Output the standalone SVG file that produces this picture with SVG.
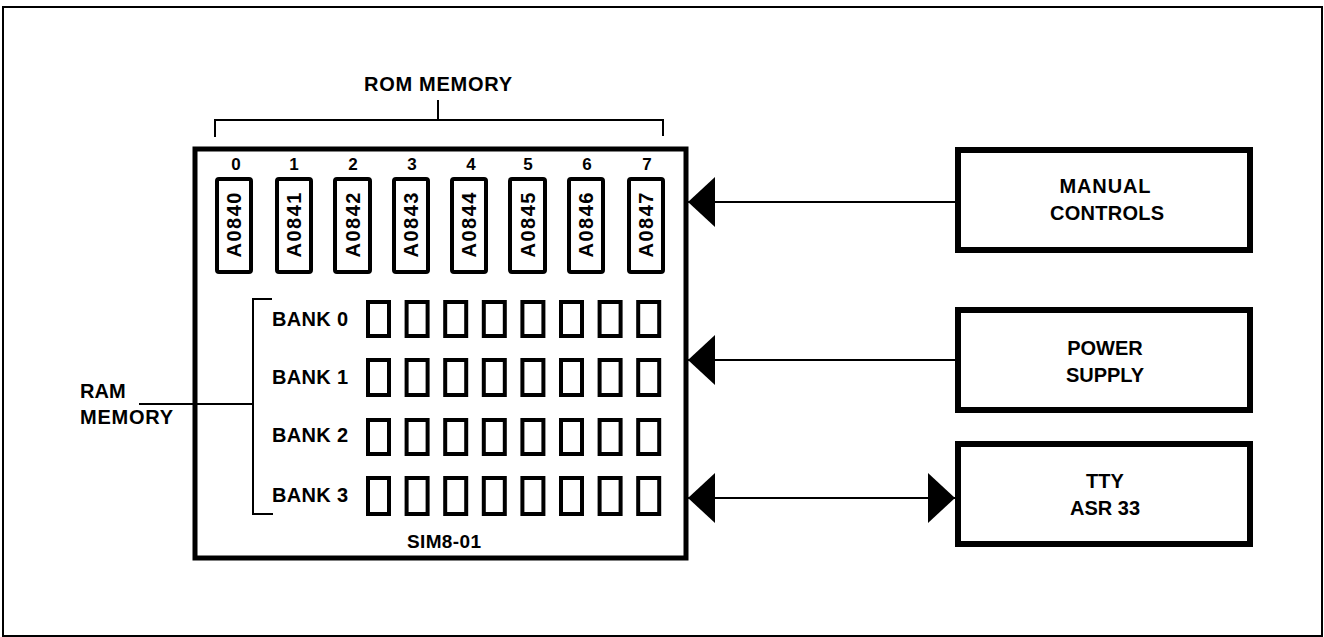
<svg xmlns="http://www.w3.org/2000/svg" width="1324" height="637" viewBox="0 0 1324 637">
<defs>
<style>
text{font-family:"Liberation Sans",Arial,Helvetica,sans-serif;font-weight:bold;fill:#000;text-anchor:middle}
.frame{fill:none;stroke:#000;stroke-width:2}
.box{fill:#fff;stroke:#000;stroke-width:5}
.rbox{fill:#fff;stroke:#000;stroke-width:6}
.rom{fill:#fff;stroke:#000;stroke-width:4}
.ram{fill:#fff;stroke:#000;stroke-width:4}
.ln{fill:none;stroke:#000;stroke-width:2}
.conn{fill:none;stroke:#000;stroke-width:2}
.lbl{font-size:20px}
.dig{font-size:17px}
.chip{font-size:20px}
</style>
<marker id="arr" markerUnits="userSpaceOnUse" markerWidth="27" markerHeight="50" viewBox="0 0 27 50" refX="27" refY="25" orient="auto-start-reverse">
<path d="M0,0 L27,25 L0,50 Z" fill="#000"/>
</marker>
</defs>
<rect width="1324" height="637" fill="#fff"/>
<rect class="frame" x="3" y="7" width="1319" height="629"/>

<g id="rom-memory-label">
<text class="lbl" x="438" y="91" textLength="148">ROM MEMORY</text>
<path class="ln" d="M438,100 V120 M215,137 V120 H663 V136"/>
</g>

<g id="sim8-01">
<rect class="box" x="195" y="149" width="491" height="409"/>
<text x="444" y="548" style="font-size:19px" textLength="74">SIM8-01</text>
<g id="rom-chips">
<text class="dig" x="236" y="170">0</text>
<text class="dig" x="294" y="170">1</text>
<text class="dig" x="353" y="170">2</text>
<text class="dig" x="412" y="170">3</text>
<text class="dig" x="471" y="170">4</text>
<text class="dig" x="528" y="170">5</text>
<text class="dig" x="587" y="170">6</text>
<text class="dig" x="647" y="170">7</text>
<rect class="rom" x="217" y="179" width="34" height="93" rx="2"/>
<rect class="rom" x="277" y="179" width="34" height="93" rx="2"/>
<rect class="rom" x="335" y="179" width="35" height="93" rx="2"/>
<rect class="rom" x="394" y="179" width="34" height="93" rx="2"/>
<rect class="rom" x="452" y="179" width="34" height="93" rx="2"/>
<rect class="rom" x="510" y="179" width="35" height="93" rx="2"/>
<rect class="rom" x="569" y="179" width="34" height="93" rx="2"/>
<rect class="rom" x="629" y="179" width="34" height="93" rx="2"/>
<text class="chip" transform="translate(241,225) rotate(-90)" textLength="65">A0840</text>
<text class="chip" transform="translate(301,225) rotate(-90)" textLength="65">A0841</text>
<text class="chip" transform="translate(359.5,225) rotate(-90)" textLength="65">A0842</text>
<text class="chip" transform="translate(418,225) rotate(-90)" textLength="65">A0843</text>
<text class="chip" transform="translate(476,225) rotate(-90)" textLength="65">A0844</text>
<text class="chip" transform="translate(534.5,225) rotate(-90)" textLength="65">A0845</text>
<text class="chip" transform="translate(593,225) rotate(-90)" textLength="65">A0846</text>
<text class="chip" transform="translate(653,225) rotate(-90)" textLength="65">A0847</text>
</g>
<g id="ram-banks">
<text class="lbl" x="310" y="326" textLength="76">BANK 0</text>
<text class="lbl" x="310" y="384" textLength="76">BANK 1</text>
<text class="lbl" x="310" y="442" textLength="76">BANK 2</text>
<text class="lbl" x="310" y="502" textLength="76">BANK 3</text>
<g id="bank0">
<rect class="ram" x="368" y="302" width="21" height="34"/>
<rect class="ram" x="406.6" y="302" width="21" height="34"/>
<rect class="ram" x="445.2" y="302" width="21" height="34"/>
<rect class="ram" x="483.8" y="302" width="21" height="34"/>
<rect class="ram" x="522.4" y="302" width="21" height="34"/>
<rect class="ram" x="561" y="302" width="21" height="34"/>
<rect class="ram" x="599.6" y="302" width="21" height="34"/>
<rect class="ram" x="638.2" y="302" width="21" height="34"/>
</g>
<g id="bank1">
<rect class="ram" x="368" y="360" width="21" height="35"/>
<rect class="ram" x="406.6" y="360" width="21" height="35"/>
<rect class="ram" x="445.2" y="360" width="21" height="35"/>
<rect class="ram" x="483.8" y="360" width="21" height="35"/>
<rect class="ram" x="522.4" y="360" width="21" height="35"/>
<rect class="ram" x="561" y="360" width="21" height="35"/>
<rect class="ram" x="599.6" y="360" width="21" height="35"/>
<rect class="ram" x="638.2" y="360" width="21" height="35"/>
</g>
<g id="bank2">
<rect class="ram" x="368" y="420" width="21" height="34"/>
<rect class="ram" x="406.6" y="420" width="21" height="34"/>
<rect class="ram" x="445.2" y="420" width="21" height="34"/>
<rect class="ram" x="483.8" y="420" width="21" height="34"/>
<rect class="ram" x="522.4" y="420" width="21" height="34"/>
<rect class="ram" x="561" y="420" width="21" height="34"/>
<rect class="ram" x="599.6" y="420" width="21" height="34"/>
<rect class="ram" x="638.2" y="420" width="21" height="34"/>
</g>
<g id="bank3">
<rect class="ram" x="368" y="478" width="21" height="36"/>
<rect class="ram" x="406.6" y="478" width="21" height="36"/>
<rect class="ram" x="445.2" y="478" width="21" height="36"/>
<rect class="ram" x="483.8" y="478" width="21" height="36"/>
<rect class="ram" x="522.4" y="478" width="21" height="36"/>
<rect class="ram" x="561" y="478" width="21" height="36"/>
<rect class="ram" x="599.6" y="478" width="21" height="36"/>
<rect class="ram" x="638.2" y="478" width="21" height="36"/>
</g>
</g>
</g>

<g id="ram-memory-label">
<text class="lbl" x="80" y="398" style="text-anchor:start">RAM</text>
<text class="lbl" x="80" y="424" style="text-anchor:start" textLength="93">MEMORY</text>
<path class="ln" d="M139,404 H253 M272,299 H253 V514 H273"/>
</g>

<g id="manual-controls">
<rect class="rbox" x="958" y="150" width="292" height="100"/>
<text class="lbl" x="1105" y="193" textLength="91">MANUAL</text>
<text class="lbl" x="1107" y="220" textLength="114">CONTROLS</text>
</g>

<g id="power-supply">
<rect class="rbox" x="958" y="310" width="292" height="100"/>
<text class="lbl" x="1105" y="355">POWER</text>
<text class="lbl" x="1105" y="382">SUPPLY</text>
</g>

<g id="tty-asr33">
<rect class="rbox" x="958" y="444" width="292" height="100"/>
<text class="lbl" x="1105" y="488">TTY</text>
<text class="lbl" x="1105" y="515">ASR 33</text>
</g>

<g id="connectors">
<line class="conn" x1="955" y1="202" x2="688" y2="202" marker-end="url(#arr)"/>
<line class="conn" x1="955" y1="360" x2="688" y2="360" marker-end="url(#arr)"/>
<line class="conn" x1="688" y1="498" x2="955" y2="498" marker-start="url(#arr)" marker-end="url(#arr)"/>
</g>
</svg>
